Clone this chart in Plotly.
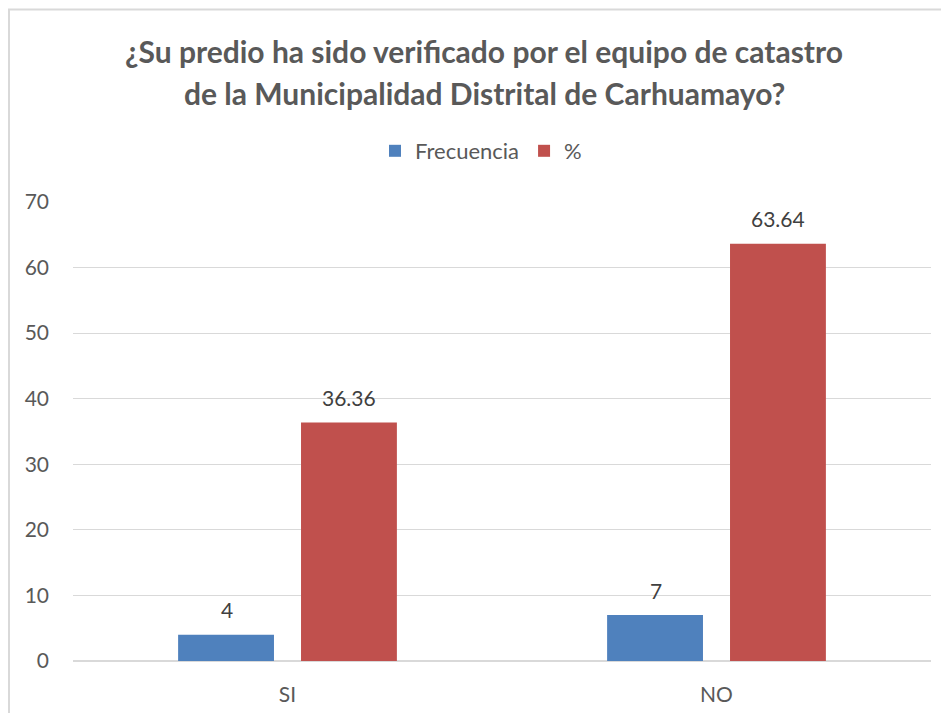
import plotly.graph_objects as go

categories = ["SI", "NO"]
frecuencia = [4, 7]
porcentaje = [36.36, 63.64]
frec_labels = ["4", "7"]
pct_labels = ["36.36", "63.64"]
y_ticks = [0, 10, 20, 30, 40, 50, 60, 70]
title_line1 = "¿Su predio ha sido verificado por el equipo de catastro"
title_line2 = "de la Municipalidad Distrital de Carhuamayo?"

BLUE = "#4F81BD"
RED = "#C0504D"
GRAY = "#595959"
FONT = "Lato"

# plot area in figure pixel coords (page is offset by the 8px body margin)
L, T, PW, PH = 65, 194, 858, 459
W, H = 949, 713

fig = go.Figure()
fig.add_trace(go.Bar(name="Frecuencia", x=categories, y=frecuencia, marker_color=BLUE,
                     marker_line_width=0))
fig.add_trace(go.Bar(name="%", x=categories, y=porcentaje, marker_color=RED,
                     marker_line_width=0))

# data labels
for vals, labs, shift in [(frecuencia, frec_labels, -61), (porcentaje, pct_labels, 61)]:
    for c, v, t in zip(categories, vals, labs):
        fig.add_annotation(x=c, y=v, text=t, showarrow=False, xshift=shift, yshift=25,
                           yanchor="middle", font=dict(family=FONT, size=21, color="#404040"))

fig.add_annotation(text=title_line2, xref="paper", yref="paper",
                   x=(476 - L) / PW, y=(T + PH - 85) / PH,
                   xanchor="center", yanchor="middle", showarrow=False,
                   font=dict(family=FONT, size=30, color=GRAY, weight="bold"))

fig.update_layout(
    width=W, height=H,
    margin=dict(l=L, r=W - L - PW, t=T, b=H - T - PH, autoexpand=False),
    paper_bgcolor="white", plot_bgcolor="white",
    barmode="group", bargap=0.427, bargroupgap=0.22,
    title=dict(text=title_line1, x=476 / W, xanchor="center", xref="container",
               y=1 - 44 / H, yanchor="middle", yref="container",
               font=dict(family=FONT, size=30, color=GRAY, weight="bold")),
    legend=dict(orientation="h", x=(473 - L) / PW, xanchor="center",
                y=(T + PH - 143) / PH, yanchor="middle",
                font=dict(family=FONT, size=22, color=GRAY),
                itemwidth=30, tracegroupgap=0),
    font=dict(family=FONT, color=GRAY),
    showlegend=True,
)
fig.update_yaxes(range=[0, 70], tickvals=y_ticks, showgrid=True, gridcolor="#D9D9D9",
                 gridwidth=1.3, zeroline=True, zerolinecolor="#D9D9D9", zerolinewidth=2,
                 ticks="", tickfont=dict(family=FONT, size=21, color=GRAY),
                 ticklabelstandoff=23, fixedrange=True)
fig.update_xaxes(showgrid=False, ticks="", tickfont=dict(family=FONT, size=21, color=GRAY),
                 ticklabelstandoff=19, showline=False)

# chart border (top and left visible edges)
fig.add_shape(type="rect", xref="paper", yref="paper",
              x0=(1 - L) / PW, x1=(W + 20 - L) / PW,
              y0=(T + PH - (H + 20)) / PH, y1=(T + PH - 1.5) / PH,
              line=dict(color="#D9D9D9", width=2), fillcolor="rgba(0,0,0,0)", layer="below")

fig.write_html("out.html")
